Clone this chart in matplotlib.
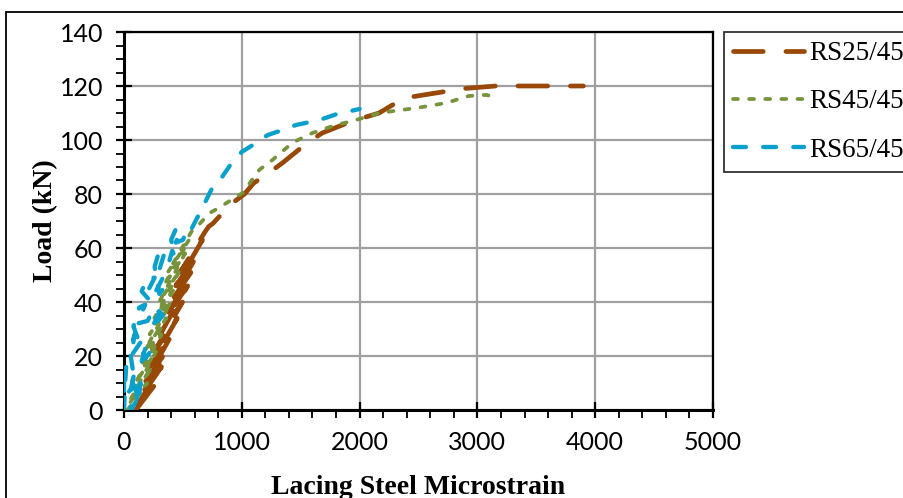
import matplotlib
matplotlib.use("Agg")
import matplotlib.pyplot as plt
from matplotlib.patches import Rectangle
from matplotlib.ticker import MultipleLocator

# ---- data: lacing steel strain (microstrain) vs load (kN) ----
rs25_strain = [100, 274, 115, 318, 130, 363, 174, 407, 218, 452, 263, 496, 307, 540, 352,
               585, 396, 629, 440, 666, 477, 688, 720,
               753, 900, 1023, 1100, 1235, 1345, 1557, 1683, 1937, 2166, 2318, 2445, 2732, 2868,
               3155, 3290, 3600, 3900]
rs25_load = [0, 10, 2, 16, 4, 22, 10, 28, 16, 34, 22, 40, 28, 46, 34,
             52, 40, 58, 46, 63, 51, 66, 68,
             69, 76, 80, 84, 88, 91.5, 99, 102.6, 107, 110, 114, 116, 118, 119,
             120, 120, 120, 120]

rs45_strain = [30, 197, 43, 237, 57, 277, 97, 318, 137, 358, 177, 398, 218, 438, 258,
               478, 298, 519, 338, 552, 372, 572,
               643, 728, 812, 871, 1007, 1150, 1260,
               1430, 1600, 1800, 1937, 2166, 2504, 2732, 2927, 3071, 3155]
rs45_load = [0, 10, 2, 16, 4, 22, 10, 28, 16, 34, 22, 40, 28, 46, 34,
             52, 40, 58, 46, 63, 51, 66,
             69, 73, 75, 76.7, 80.4, 89, 92.6,
             99, 102.6, 105.6, 107, 110, 112, 113.7, 116.3, 116.7, 116]

rs65_strain = [0, 10, 20, 0, 0, 60, 90, 60, 60, 100, 140, 120,
               50, 90, 60, 140, 200, 150, 230, 180,
               80, 130, 180, 110, 200, 260, 300, 230, 330,
               150, 200, 260, 190, 270, 330, 370, 300,
               260, 300, 350, 300, 370, 410, 430,
               400, 440, 480, 440, 500, 540, 560,
               643, 753, 812, 922, 1000, 1125, 1218, 1345, 1464, 1658, 1800, 2000]
rs65_load = [0, 10, 17, 12, 4, 8, 15, 6, 0, 3, 10, 2,
             22, 28, 20, 25, 26, 18, 22, 19,
             31, 38, 39, 32, 33, 38, 36, 30, 35,
             44, 49, 49, 43, 44, 49, 47, 43,
             53, 59, 59, 52, 53, 59, 57,
             63, 67, 67, 62, 63, 67, 66,
             73, 82.6, 85, 92, 95.6, 99, 101.8, 103.7, 105.6, 107.4, 109.5, 111.5]

labels = ["RS25/45", "RS45/45", "RS65/45"]
colors = ["#984807", "#77933C", "#0AA0CC"]

fig = plt.figure(figsize=(9.04, 4.98), dpi=100)
ax = fig.add_axes([124 / 904, 1 - 410 / 498, (713 - 124) / 904, (410 - 32) / 498])

# outer chart border (cut off at right/bottom)
fig.patches.append(Rectangle((6 / 904, -0.1), 1.2, 1.1 - 12 / 498,
                             transform=fig.transFigure, fill=False,
                             edgecolor="black", linewidth=1.3))

l1, = ax.plot(rs25_strain, rs25_load, color=colors[0], lw=3.4, dash_capstyle="round",
              label=labels[0], zorder=3)
l1.set_dashes((6.3, 4.8))
l2, = ax.plot(rs45_strain, rs45_load, color=colors[1], lw=2.7, dash_capstyle="round",
              label=labels[1], zorder=4)
l2.set_dashes((1.3, 3.0))
l3, = ax.plot(rs65_strain, rs65_load, color=colors[2], lw=3.1, dash_capstyle="round",
              label=labels[2], zorder=5)
l3.set_dashes((3.0, 4.0))

ax.set_xlim(0, 5000)
ax.set_ylim(0, 140)
ax.xaxis.set_major_locator(MultipleLocator(1000))
ax.xaxis.set_minor_locator(MultipleLocator(200))
ax.yaxis.set_major_locator(MultipleLocator(20))
ax.yaxis.set_minor_locator(MultipleLocator(5))
ax.grid(True, which="major", color="#A0A0A0", linewidth=1.6)
ax.set_axisbelow(True)

for s in ax.spines.values():
    s.set_linewidth(1.6)
    s.set_color("black")
ax.spines["left"].set_linewidth(2.2)
ax.spines["bottom"].set_linewidth(2.2)

ax.tick_params(which="major", direction="inout", length=12, width=1.6, pad=9,
               labelsize=18, top=False, right=False)
ax.tick_params(which="minor", direction="out", length=6, width=1.3, top=False, right=False)
for t in ax.get_xticklabels() + ax.get_yticklabels():
    t.set_fontfamily("Lato")

ax.set_xlabel("Lacing Steel Microstrain", fontfamily="Liberation Serif", fontweight="bold",
              fontsize=20, labelpad=15)
ax.set_ylabel("Load (kN)", fontfamily="Liberation Serif", fontweight="bold",
              fontsize=20, labelpad=1)

leg = fig.legend(handles=[l1, l2, l3], loc="upper left", bbox_to_anchor=(724 / 904, 1 - 32 / 498),
                 prop={"family": "Liberation Serif", "size": 19.5}, frameon=True, fancybox=False,
                 edgecolor="black", borderaxespad=0, handlelength=2.6, handletextpad=0.2,
                 borderpad=0.35, labelspacing=0.85)
leg.get_frame().set_linewidth(1.3)

fig.savefig("out.png", dpi=100)
